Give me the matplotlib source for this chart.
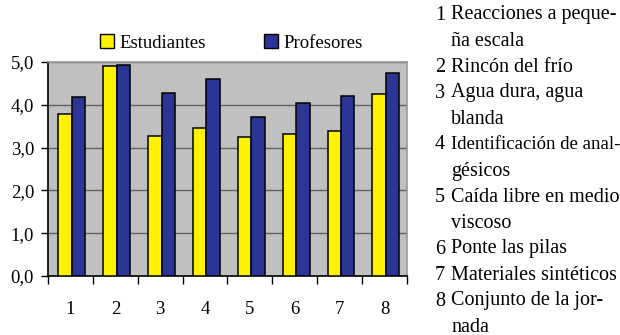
import matplotlib.pyplot as plt
from matplotlib.patches import Patch

categories = ['1', '2', '3', '4', '5', '6', '7', '8']
estudiantes = [3.78, 4.91, 3.27, 3.46, 3.24, 3.32, 3.39, 4.25]
profesores = [4.18, 4.94, 4.27, 4.60, 3.71, 4.04, 4.20, 4.75]
y_ticks = [0, 1, 2, 3, 4, 5]
y_tick_labels = ['0,0', '1,0', '2,0', '3,0', '4,0', '5,0']

# activity names, already split where the original text wraps
activities = [
    ['Reacciones a peque-', 'ña escala'],
    ['Rincón del frío'],
    ['Agua dura, agua', 'blanda'],
    ['Identificación de anal-', 'gésicos'],
    ['Caída libre en medio', 'viscoso'],
    ['Ponte las pilas'],
    ['Materiales sintéticos'],
    ['Conjunto de la jor-', 'nada'],
]

YELLOW = '#FFF200'
BLUE = '#2B3595'

plt.rcParams['font.family'] = ['Liberation Serif', 'DejaVu Serif']

fig = plt.figure(figsize=(6.2, 3.35), dpi=100)
ax = fig.add_axes([48 / 620, 59 / 335, 359 / 620, 214 / 335])
ax.set_facecolor('#C0C0C0')

x = list(range(len(categories)))
w = 0.3
off = 0.03
ax.bar([i - w / 2 + off for i in x], estudiantes, w, color=YELLOW,
       edgecolor='black', linewidth=1.1, zorder=3)
ax.bar([i + w / 2 + off for i in x], profesores, w, color=BLUE,
       edgecolor='black', linewidth=1.1, zorder=3)

ax.set_xlim(-0.5, len(categories) - 0.5)
ax.set_ylim(0, 5)
ax.set_yticks(y_ticks)
ax.set_yticklabels(y_tick_labels, fontsize=13.5)
ax.yaxis.grid(True, color='#606060', linewidth=1.0, zorder=1)

# category labels centered, tick marks on group boundaries
ax.set_xticks(x)
ax.set_xticklabels(categories, fontsize=13.5)
ax.tick_params(axis='x', which='major', length=0, pad=18)
ax.set_xticks([i - 0.5 for i in range(len(categories) + 1)], minor=True)
ax.tick_params(axis='x', which='minor', length=6, width=1, color='black')
ax.tick_params(axis='y', length=5, width=1, direction='out', pad=5)

for s in ['top', 'right']:
    ax.spines[s].set_color('#9A9A9A')
    ax.spines[s].set_linewidth(1.2)
for s in ['left', 'bottom']:
    ax.spines[s].set_color('black')
    ax.spines[s].set_linewidth(1.2)

handles = [Patch(facecolor=YELLOW, edgecolor='black', label='Estudiantes'),
           Patch(facecolor=BLUE, edgecolor='black', label='Profesores')]
fig.legend(handles=handles, loc='center', bbox_to_anchor=(0.373, 0.872),
           ncol=2, frameon=False, fontsize=13.5, handlelength=0.75,
           handleheight=0.75, handletextpad=0.3, columnspacing=3.1)

# side list of activity names
line_h = 26
y0 = 15
k = 0
for n, lines in enumerate(activities, start=1):
    for j, txt in enumerate(lines):
        y = 1 - (y0 + k * line_h) / 335
        # the long line is set tighter in the original
        size = 13.5 if len(txt) > 21 else 14.5
        if j == 0:
            fig.text(435 / 620, y, str(n), fontsize=14.5, va='center')
        fig.text(451 / 620, y, txt, fontsize=size, va='center')
        k += 1

fig.savefig('out.png', dpi=100)
